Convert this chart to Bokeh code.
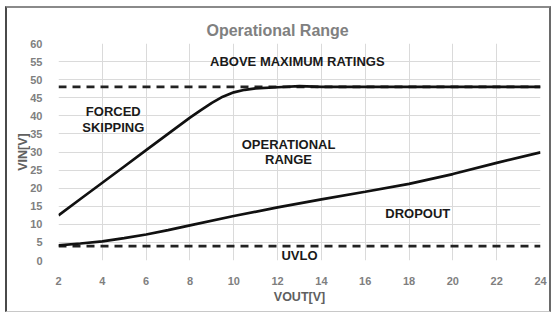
from bokeh.plotting import figure
from bokeh.models import Range1d, FixedTicker, Label, InlineStyleSheet
from bokeh.embed import file_html
from bokeh.resources import INLINE

# Boundary curves of the operating region
vout_upper = [2, 3, 4, 5, 6, 7, 8, 8.5, 9, 9.5, 10, 10.5, 11, 12, 13, 14, 16, 18, 20, 22, 24]
vin_upper = [12.5, 17, 21.5, 26, 30.5, 35, 39.5, 41.6, 43.6, 45.3, 46.5, 47.2, 47.6, 47.9, 48.2, 48, 48, 48, 48, 48, 48]

vout_lower = [2, 3, 4, 5, 6, 7, 8, 10, 12, 14, 16, 18, 20, 22, 24]
vin_lower = [4.2, 4.7, 5.3, 6.2, 7.2, 8.4, 9.7, 12.3, 14.7, 16.9, 19.0, 21.2, 23.9, 27.0, 29.9]

# Absolute maximum input and undervoltage lockout levels
vin_max = 48
vin_uvlo = 4
vout_span = [2, 24]

x_ticks = [2, 4, 6, 8, 10, 12, 14, 16, 18, 20, 22, 24]
y_ticks = [0, 5, 10, 15, 20, 25, 30, 35, 40, 45, 50, 55, 60]

# Region names with their anchor points (VOUT, VIN)
region_labels = ["ABOVE MAXIMUM RATINGS", "FORCED", "SKIPPING", "OPERATIONAL", "RANGE", "DROPOUT", "UVLO"]
region_x = [12.9, 4.5, 4.5, 12.5, 12.5, 18.4, 13.0]
region_y = [55.0, 41.3, 36.8, 32.2, 28.0, 13.0, 1.4]

FONT = "Liberation Sans"
GREY = "#7f7f7f"

# Box drawn around the whole chart, above the canvas layers
frame_css = InlineStyleSheet(css="""
:host::after {
  content: "";
  position: absolute;
  left: 5px; top: 6px; width: 546px; height: 306px;
  box-sizing: border-box;
  border-left: 2px solid #4a4a4a;
  border-right: 2px solid #6a6a6a;
  border-top: 2px solid #8a8a8a;
  border-bottom: 1px solid #c8c8c8;
  pointer-events: none;
  z-index: 100;
}
""")

p = figure(
    width=554, height=320,
    output_backend="svg", toolbar_location=None,
    x_range=Range1d(2, 24), y_range=Range1d(0, 60),
    min_border_left=58, min_border_right=14,
    min_border_top=43, min_border_bottom=60,
    background_fill_color="white", border_fill_color="white",
)
p.outline_line_color = None
p.stylesheets = [frame_css]

p.title.text = "Operational Range"
p.title.align = "left"
p.title.offset = 148
p.title.text_font = FONT
p.title.text_font_size = "16px"
p.title.text_font_style = "bold"
p.title.text_color = "#808080"

for ax in (p.xaxis, p.yaxis):
    ax.axis_line_color = None
    ax.major_tick_line_color = None
    ax.minor_tick_line_color = None
    ax.major_label_text_font = FONT
    ax.major_label_text_font_size = "11px"
    ax.major_label_text_font_style = "bold"
    ax.major_label_text_color = GREY
    ax.axis_label_text_font = FONT
    ax.axis_label_text_font_size = "12.5px"
    ax.axis_label_text_font_style = "bold"
    ax.axis_label_text_color = "#606060"

p.xaxis.ticker = FixedTicker(ticks=x_ticks)
p.yaxis.ticker = FixedTicker(ticks=y_ticks)
p.xaxis.axis_label = "VOUT[V]"
p.yaxis.axis_label = "VIN[V]"
p.xaxis.major_label_standoff = 10
p.yaxis.major_label_standoff = 10
p.xaxis.axis_label_standoff = 2
p.yaxis.axis_label_standoff = -3

p.xgrid.grid_line_color = "#dadada"
p.ygrid.grid_line_color = "#dadada"

# Dashed limit lines
p.line(vout_span, [vin_max, vin_max], line_color="#222222", line_width=2.7, line_dash="8 6")
p.line(vout_span, [vin_uvlo, vin_uvlo], line_color="#222222", line_width=2.7, line_dash="8 6")

# Region boundaries
p.line(vout_upper, vin_upper, line_color="#111111", line_width=2.7)
p.line(vout_lower, vin_lower, line_color="#111111", line_width=2.7)

for txt, x, y in zip(region_labels, region_x, region_y):
    p.add_layout(Label(x=x, y=y, text=txt, text_align="center", text_baseline="middle",
                       text_font=FONT, text_font_size="13px", text_font_style="bold",
                       text_color="#1a1a1a"))

open("out.html", "w").write(file_html(p, INLINE))
